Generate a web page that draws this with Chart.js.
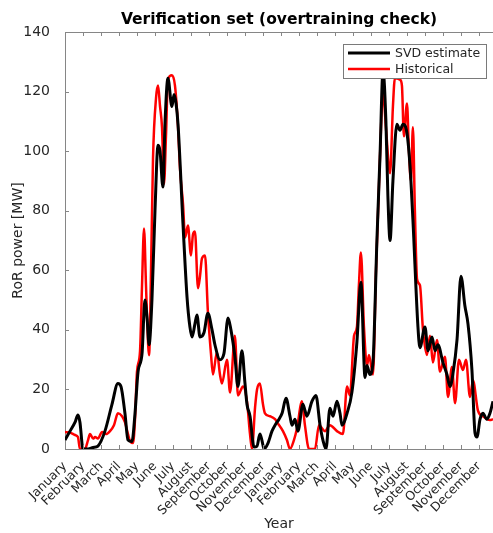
<!DOCTYPE html>
<html>
<head>
<meta charset="utf-8">
<script src="https://cdn.jsdelivr.net/npm/chart.js@4.4.0/dist/chart.umd.min.js"></script>
<style>
  body { margin: 0; background: #fff; }
  #chart { display: block; }
</style>
</head>
<body>
<canvas id="chart" width="493" height="533"></canvas>
<script>
// Month names for the tick labels (two years shown)
const monthNames = ['January', 'February', 'March', 'April', 'May', 'June',
  'July', 'August', 'September', 'October', 'November', 'December'];
const monthTicks = [0, 1, 2, 3, 4, 5, 6, 7, 8, 9, 10, 11, 12, 13, 14, 15, 16, 17, 18, 19, 20, 21, 22, 23];
const yTicks = [0, 20, 40, 60, 80, 100, 120, 140];

// SVD estimate (months since start, MW)
const svdMonth = [0, 0.28, 0.56, 0.72, 0.83, 1.0, 1.28, 1.56, 1.83, 2.22, 2.61, 2.94, 3.11, 3.33, 3.5, 3.72,
  3.89, 4.06, 4.28, 4.44, 4.56, 4.67, 4.83, 5.0, 5.17, 5.28, 5.44, 5.56, 5.72, 5.94, 6.06, 6.17, 6.28,
  6.56, 6.78, 6.94, 7.06, 7.22, 7.33, 7.5, 7.72, 7.94, 8.17, 8.33, 8.61, 8.83, 9.06, 9.22, 9.44, 9.61,
  9.83, 10.0, 10.11, 10.28, 10.5, 10.67, 10.83, 10.94, 11.06, 11.28, 11.5, 11.67, 11.89, 12.06, 12.28,
  12.5, 12.61, 12.78, 12.94, 13.22, 13.33, 13.44, 13.72, 13.94, 14.17, 14.33, 14.5, 14.72, 14.89, 15.11,
  15.28, 15.39, 15.67, 15.94, 16.22, 16.44, 16.67, 16.78, 16.94, 17.11, 17.33, 17.5, 17.67, 17.83, 17.94,
  18.06, 18.22, 18.44, 18.61, 18.78, 19.0, 19.17, 19.33, 19.61, 19.72, 20.0, 20.17, 20.39, 20.56, 20.72,
  21.0, 21.22, 21.39, 21.56, 21.78, 22.0, 22.22, 22.39, 22.61, 22.78, 22.89, 23.06, 23.22, 23.44, 23.61, 23.78];
const svdValue = [3, 6, 9, 11.4, 9, 0, 0, 0.5, 1, 6, 15, 22, 21, 12, 3, 2.5,
  12, 26, 32, 50, 44, 35, 50, 80, 102, 100, 88, 110, 124.5, 115, 119, 116, 109,
  75, 51, 41, 37.6, 42, 45, 37.6, 39, 45.6, 40, 35, 30, 32, 44, 40, 31, 21,
  33, 22, 15, 11, 0.7, 1, 5, 3, 0, 2, 6, 8, 10, 12, 17,
  11, 8, 10, 6, 15, 13, 11, 16, 18, 8, 3, 0, 13.7, 11, 16,
  12, 8, 12, 19, 36, 56, 24, 28, 25, 29, 70, 98, 127, 110, 85,
  70, 90, 109, 107, 109, 106, 95, 77, 41, 34, 41, 33, 37.6, 33, 35,
  29, 25, 21, 25.5, 36.6, 58, 48, 42, 26.5, 5.4, 4, 10, 12, 10, 12, 16];

// Historical (months since start, MW)
const histMonth = [0, 0.28, 0.56, 0.72, 0.83, 1.11, 1.28, 1.39, 1.56, 1.67, 1.83, 2.06, 2.28, 2.5, 2.72,
  2.94, 3.17, 3.33, 3.5, 3.61, 3.78, 3.89, 4.0, 4.17, 4.28, 4.39, 4.5, 4.56, 4.67, 4.78, 4.89, 5.06,
  5.17, 5.28, 5.39, 5.5, 5.61, 5.72, 5.94, 6.11, 6.28, 6.39, 6.56, 6.67, 6.83, 7.0, 7.11, 7.22, 7.39,
  7.5, 7.61, 7.78, 7.94, 8.11, 8.22, 8.44, 8.61, 8.72, 9.0, 9.17, 9.44, 9.61, 9.89, 10.11, 10.28, 10.39,
  10.56, 10.67, 10.83, 11.0, 11.11, 11.39, 11.67, 11.78, 12.11, 12.33, 12.5, 12.72, 12.89, 13.17, 13.33,
  13.56, 13.89, 14.11, 14.44, 14.72, 15.11, 15.44, 15.67, 15.83, 16.06, 16.22, 16.33, 16.44, 16.61,
  16.78, 16.89, 17.11, 17.28, 17.5, 17.67, 17.83, 18.06, 18.22, 18.33, 18.61, 18.72, 18.83, 19.0, 19.11,
  19.22, 19.33, 19.44, 19.56, 19.72, 19.89, 20.11, 20.28, 20.44, 20.67, 20.83, 21.11, 21.28, 21.5, 21.67,
  21.89, 22.11, 22.28, 22.5, 22.67, 22.94, 23.22, 23.61, 23.78];
const histValue = [5.7, 5.5, 4.7, 4, 0, 0, 3, 5, 3.5, 4, 3.5, 5.7, 5, 6, 8,
  12, 11, 9, 5, 2.7, 2, 10, 26, 33, 55, 74, 55, 44, 31.5, 60, 97.6, 118,
  122, 115, 108, 89, 105, 124, 125.5, 122, 108, 94, 82, 71, 75, 65, 72, 73, 54,
  58, 64, 65, 46, 32, 25, 32.5, 25, 22, 30, 19, 38, 18, 21, 16, 5, 0,
  14, 20, 22, 15, 12, 11, 10, 9, 6, 3, 0, 3, 7, 16, 8,
  0, 0, 8, 6, 8, 6, 5, 21, 18, 38, 41, 55, 66, 41,
  28, 31.6, 25, 60, 98, 120, 108, 92.6, 115, 124.5, 124, 122, 105, 116, 100,
  90, 108, 80, 57, 55, 40, 31.6, 38, 29, 36.6, 26, 31, 17.5, 27.5, 15.4,
  30, 26.5, 30, 17.5, 23, 13, 11, 9.7, 10];

const textColor = '#262626';
const axisColor = '#868686';
const fontFamily = '"DejaVu Sans", sans-serif';

// MATLAB-like frame, inward ticks, title and legend
const matlabLook = {
  id: 'matlabLook',
  afterDraw(chart) {
    const ctx = chart.ctx;
    const area = chart.chartArea;
    const xs = chart.scales.x;
    const ys = chart.scales.y;
    ctx.save();
    ctx.strokeStyle = axisColor;
    ctx.lineWidth = 1;
    ctx.beginPath();
    ctx.moveTo(area.left, area.top + 0.5);
    ctx.lineTo(area.right, area.top + 0.5);
    xs.ticks.forEach(t => {
      const px = Math.round(xs.getPixelForValue(t.value)) + 0.5;
      ctx.moveTo(px, area.bottom);
      ctx.lineTo(px, area.bottom - 4);
      ctx.moveTo(px, area.top);
      ctx.lineTo(px, area.top + 4);
    });
    ys.ticks.forEach(t => {
      const py = Math.round(ys.getPixelForValue(t.value)) + 0.5;
      ctx.moveTo(area.left, py);
      ctx.lineTo(area.left + 4, py);
    });
    ctx.stroke();

    // title centred over the plot area
    ctx.fillStyle = '#000';
    ctx.font = 'bold 15.5px ' + fontFamily;
    ctx.textAlign = 'center';
    ctx.textBaseline = 'middle';
    ctx.fillText('Verification set (overtraining check)', (area.left + area.right) / 2, area.top - 12);

    // legend box in the upper right corner
    const bx = area.right - 150, by = area.top + 12, bw = 143, bh = 34;
    ctx.fillStyle = '#fff';
    ctx.fillRect(bx, by, bw, bh);
    ctx.strokeStyle = '#7a7a7a';
    ctx.strokeRect(bx + 0.5, by + 0.5, bw, bh);
    ctx.font = '12.5px ' + fontFamily;
    ctx.textAlign = 'left';
    chart.data.datasets.forEach((ds, i) => {
      const ly = by + 9 + i * 16;
      ctx.strokeStyle = ds.borderColor;
      ctx.lineWidth = ds.borderWidth;
      ctx.beginPath();
      ctx.moveTo(bx + 5, ly);
      ctx.lineTo(bx + 47, ly);
      ctx.stroke();
      ctx.fillStyle = textColor;
      ctx.fillText(ds.label, bx + 52, ly + 1);
    });
    ctx.restore();
  }
};

const ctx = document.getElementById('chart').getContext('2d');
new Chart(ctx, {
  type: 'line',
  data: {
    datasets: [{
      label: 'SVD estimate',
      data: svdMonth.map((m, i) => ({ x: m, y: svdValue[i] })),
      borderColor: '#000000',
      borderWidth: 3,
      pointRadius: 0,
      cubicInterpolationMode: 'monotone',
      fill: false
    }, {
      label: 'Historical',
      data: histMonth.map((m, i) => ({ x: m, y: histValue[i] })),
      borderColor: '#ff0000',
      borderWidth: 2.5,
      pointRadius: 0,
      cubicInterpolationMode: 'monotone',
      fill: false
    }]
  },
  options: {
    responsive: false,
    animation: false,
    devicePixelRatio: 1,
    layout: { padding: { top: 32, right: 0, left: 0, bottom: 0 } },
    plugins: {
      legend: { display: false },
      title: { display: false },
      tooltip: { enabled: false }
    },
    scales: {
      x: {
        type: 'linear',
        min: 0,
        max: 23.78,
        afterBuildTicks: s => { s.ticks = monthTicks.map(v => ({ value: v })); },
        afterFit: s => { s.height = 84; },
        grid: { display: false },
        border: { display: true, color: axisColor, width: 1 },
        ticks: {
          autoSkip: false,
          minRotation: 45,
          maxRotation: 45,
          padding: 2,
          color: textColor,
          font: { family: fontFamily, size: 12.5 },
          callback: v => monthNames[v % 12]
        },
        title: {
          display: true,
          text: 'Year',
          color: textColor,
          font: { family: fontFamily, size: 14 },
          padding: { top: 0, bottom: 0 }
        }
      },
      y: {
        min: 0,
        max: 140,
        afterBuildTicks: s => { s.ticks = yTicks.map(v => ({ value: v })); },
        afterFit: s => { s.width = 65; },
        grid: { display: false },
        border: { display: true, color: axisColor, width: 1 },
        ticks: {
          padding: 7,
          color: textColor,
          font: { family: fontFamily, size: 14 }
        },
        title: {
          display: true,
          text: 'RoR power [MW]',
          color: textColor,
          font: { family: fontFamily, size: 14 },
          padding: { top: 10, bottom: 0 }
        }
      }
    }
  },
  plugins: [matlabLook]
});
</script>
</body>
</html>
